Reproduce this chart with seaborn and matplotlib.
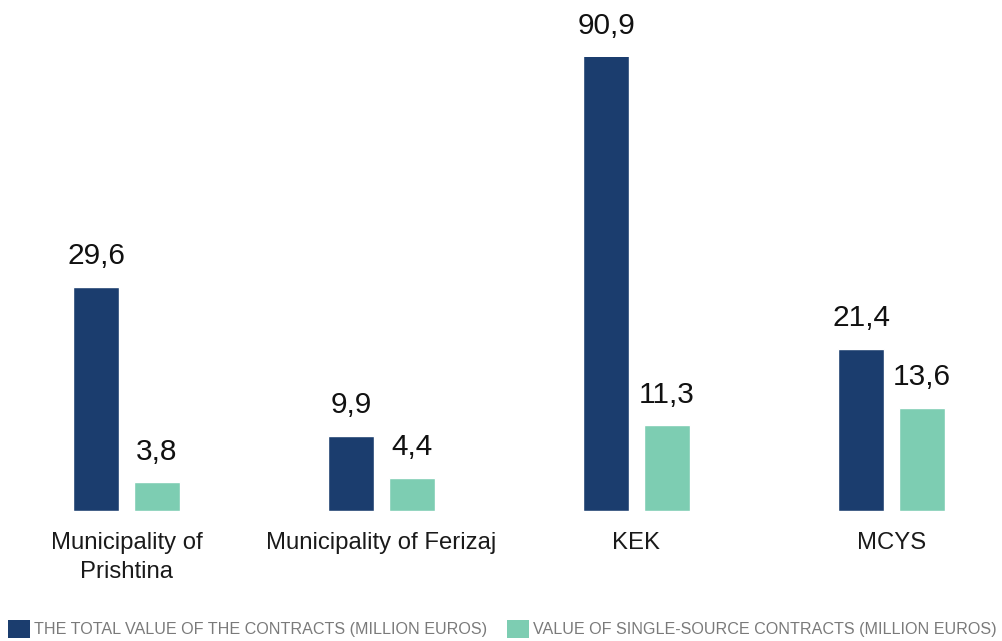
import matplotlib
matplotlib.use("Agg")
import matplotlib.pyplot as plt
import seaborn as sns
import pandas as pd
from matplotlib.patches import Patch

categories = ["Municipality of\nPrishtina", "Municipality of Ferizaj", "KEK", "MCYS"]
series_names = ["THE TOTAL VALUE OF THE CONTRACTS (MILLION EUROS)",
                "VALUE OF SINGLE-SOURCE CONTRACTS (MILLION EUROS)"]
total_values = [29.6, 9.9, 90.9, 21.4]
single_values = [3.8, 4.4, 11.3, 13.6]
colors = ["#1b3d6e", "#7dcdb2"]

sns.set_theme(style="white")
plt.rcParams['font.family'] = ['Liberation Sans', 'DejaVu Sans']

df = pd.DataFrame({
    "category": categories * 2,
    "series": [series_names[0]] * 4 + [series_names[1]] * 4,
    "value": total_values + single_values,
})

fig = plt.figure(figsize=(10.03, 6.41), dpi=100)
ax = fig.add_axes([0.0, 1 - 511 / 641, 1.0, 454 / 641])

sns.barplot(data=df, x="category", y="value", hue="series", order=categories,
            hue_order=series_names, palette=colors, width=0.4784, gap=0.2475,
            saturation=1, ax=ax, legend=False, errorbar=None)

ymax = 454 / 7.58
ax.set_ylim(0, ymax)
ax.set_xlim(-126.5 / 255, 3 + (1003 - 891.5) / 255)

for container in ax.containers:
    for bar in container:
        h = bar.get_height()
        xc = bar.get_x() + bar.get_width() / 2
        y = min(h, ymax)
        ax.annotate(f"{h:.1f}".replace(".", ","), (xc, y), xytext=(0, 12),
                    textcoords="offset points", ha="center", va="bottom",
                    fontsize=21.5, color="#111111", annotation_clip=False)

ax.set_xlabel("")
ax.set_ylabel("")
ax.set_yticks([])
ax.set_xticks(range(len(categories)))
ax.set_xticklabels(categories, linespacing=1.45)
ax.tick_params(axis="x", length=0, pad=15, labelsize=17.2, labelcolor="#1a1a1a")
for s in ax.spines.values():
    s.set_visible(False)

handles = [Patch(facecolor=c, edgecolor="none") for c in colors]
fig.legend(handles, series_names, loc="upper left", bbox_to_anchor=(0.008, 0.033),
           ncol=2, frameon=False, fontsize=11.6, labelcolor="#7a7a7a",
           handlelength=1.35, handleheight=1.35, handletextpad=0.25, columnspacing=1.25,
           borderaxespad=0, borderpad=0)

fig.savefig("out.png", dpi=100)
